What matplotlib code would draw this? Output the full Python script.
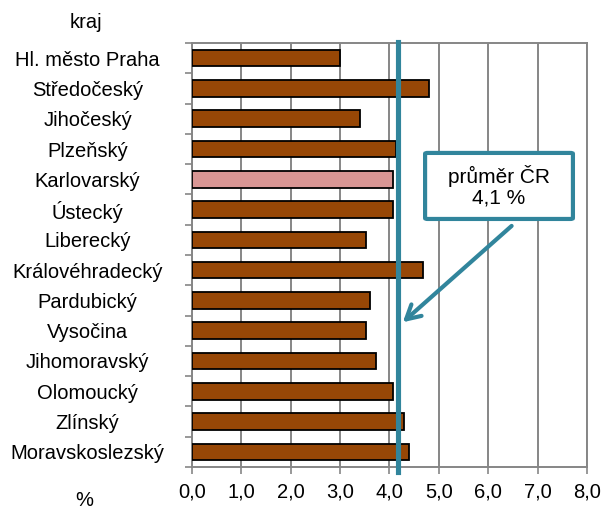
import matplotlib
matplotlib.use("Agg")
import matplotlib.pyplot as plt
from matplotlib.patches import FancyBboxPatch
import numpy as np

plt.rcParams['font.family'] = ['Liberation Sans', 'DejaVu Sans']

regions = ["Hl. město Praha", "Středočeský", "Jihočeský", "Plzeňský", "Karlovarský",
           "Ústecký", "Liberecký", "Královéhradecký", "Pardubický", "Vysočina",
           "Jihomoravský", "Olomoucký", "Zlínský", "Moravskoslezský"]
values = [3.0, 4.79, 3.41, 4.14, 4.08, 4.08, 3.52, 4.68, 3.61, 3.52, 3.73, 4.08, 4.29, 4.40]
highlight = "Karlovarský"
cr_mean_pos = 4.18
cr_label = "průměr ČR\n4,1 %"
xticks = [0, 1, 2, 3, 4, 5, 6, 7, 8]
xticklabels = ["0,0", "1,0", "2,0", "3,0", "4,0", "5,0", "6,0", "7,0", "8,0"]

brown = "#974706"
pink = "#D99694"
teal = "#31859C"
grid = "#868686"
fs = 14.5

fig = plt.figure(figsize=(6.07, 5.12), dpi=100)
ax = fig.add_axes([0.3158, 0.0879, 0.6517, 0.8281])

y = np.arange(len(regions))
colors = [pink if r == highlight else brown for r in regions]
ax.barh(y, values, height=0.55, color=colors, edgecolor="black", linewidth=1.3, zorder=3)

ax.set_xlim(0, 8)
ax.set_ylim(len(regions) - 0.5, -0.5)

ax.set_xticks(xticks)
ax.set_xticklabels(xticklabels, fontsize=fs)
ax.tick_params(axis='x', length=5, width=1.2, color=grid, pad=6)
ax.grid(axis='x', color=grid, linewidth=1.4, zorder=0)

ax.set_yticks(np.arange(len(regions) + 1) - 0.5)
ax.set_yticklabels([])
ax.tick_params(axis='y', which='major', length=5, width=1.2, color=grid)
ax.set_yticks(y, minor=True)
ax.set_yticklabels(regions, minor=True, fontsize=fs, ha='center')
ax.tick_params(axis='y', which='minor', length=0, pad=75)

for s in ['left', 'bottom', 'top', 'right']:
    ax.spines[s].set_color(grid)
    ax.spines[s].set_linewidth(1.4)

ax.axvline(cr_mean_pos, ymin=-0.012, ymax=1.003, color=teal, linewidth=3.7, zorder=5, clip_on=False)

box = FancyBboxPatch((4.72, 3.13), 7.71 - 4.72, 5.31 - 3.13,
                     boxstyle="round,pad=0,rounding_size=0.05",
                     facecolor="white", edgecolor=teal, linewidth=3.0, zorder=6,
                     mutation_aspect=1 / 1.6)
ax.add_patch(box)
ax.text((4.72 + 7.71) / 2, 4.22, cr_label, ha='center', va='center', fontsize=15,
        linespacing=1.1, zorder=7)

ax.annotate("", xy=(4.27, 8.72), xytext=(6.47, 5.54),
            arrowprops=dict(arrowstyle="->,head_length=1.0,head_width=0.55",
                            color=teal, lw=3.0, shrinkA=0, shrinkB=0), zorder=6)

fig.text(86 / 607, 1 - 22 / 512, "kraj", ha='center', va='center', fontsize=fs)
fig.text(84 / 607, 1 - 500 / 512, "%", ha='center', va='center', fontsize=fs)

fig.savefig("out.png", dpi=100)
